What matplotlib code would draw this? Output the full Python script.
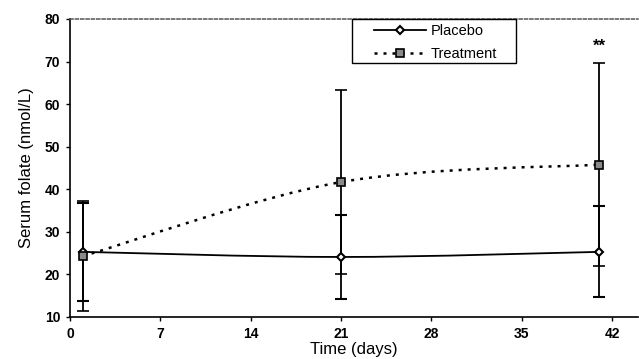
import numpy as np
import matplotlib
matplotlib.use('Agg')
import matplotlib.pyplot as plt
from matplotlib.path import Path
from matplotlib.patches import PathPatch, Rectangle
from matplotlib.lines import Line2D

plt.rcParams['font.family'] = ['Liberation Sans', 'DejaVu Sans']

# ---- data ----
days = [1, 21, 41]
placebo = [25.3, 24.1, 25.3]
placebo_err = [11.5, 9.8, 10.7]
treatment = [24.3, 41.7, 45.8]
treatment_err = [12.9, 21.7, 23.8]
xticks = [0, 7, 14, 21, 28, 35, 42]
yticks = [10, 20, 30, 40, 50, 60, 70, 80]
series_labels = ['Placebo', 'Treatment']
signif_label = '**'


def smooth_path(x, y):
    pts = np.column_stack([x, y]).astype(float)
    n = len(pts)
    verts = [pts[0]]
    codes = [Path.MOVETO]
    for i in range(n - 1):
        p0 = pts[max(i - 1, 0)]
        p1 = pts[i]
        p2 = pts[i + 1]
        p3 = pts[min(i + 2, n - 1)]
        c1 = p1 + (p2 - p0) / 6.0
        c2 = p2 - (p3 - p1) / 6.0
        verts += [c1, c2, p2]
        codes += [Path.CURVE4] * 3
    return Path(verts, codes)


W, H = 639, 359
fig = plt.figure(figsize=(W / 100, H / 100), dpi=100)
ax_l, ax_r, ax_t, ax_b = 70, 638, 19, 317
ax = fig.add_axes([ax_l / W, 1 - ax_b / H, (ax_r - ax_l) / W, (ax_b - ax_t) / H])
ax.set_xlim(0, 44)
ax.set_ylim(10, 80)

dot_style = (0, (1.2, 2.4))

# smoothed lines
ax.add_patch(PathPatch(smooth_path(days, placebo), fill=False, edgecolor='black',
                       lw=1.3, zorder=2))
ax.add_patch(PathPatch(smooth_path(days, treatment), fill=False, edgecolor='black',
                       lw=1.8, linestyle=dot_style, zorder=2))

# error bars and markers
ax.errorbar(days, placebo, yerr=placebo_err, fmt='D', ms=4.5, mfc='white', mec='black',
            mew=1.5, ecolor='black', elinewidth=1.3, capsize=4, capthick=1.3, zorder=3)
ax.errorbar(days, treatment, yerr=treatment_err, fmt='s', ms=5.5, mfc='#8a8a8a', mec='black',
            mew=1.2, ecolor='black', elinewidth=1.3, capsize=4, capthick=1.3, zorder=3)

ax.text(days[-1], 73.5, signif_label, ha='center', va='center', fontsize=12,
        fontweight='bold')

# axes styling
ax.set_xticks(xticks)
ax.set_yticks(yticks)
ax.tick_params(direction='out', length=3, width=1, labelsize=10, pad=4)
for lab in ax.get_xticklabels() + ax.get_yticklabels():
    lab.set_fontweight('bold')
ax.spines['right'].set_visible(False)
ax.spines['top'].set_linestyle((0, (2, 1.5)))
ax.spines['top'].set_linewidth(1.1)
ax.spines['top'].set_color('#555555')
ax.spines['left'].set_linewidth(1.2)
ax.spines['bottom'].set_linewidth(1.2)

ax.set_xlabel('Time (days)', fontsize=12, labelpad=1)
ax.set_ylabel('Serum folate (nmol/L)', fontsize=12, labelpad=8)

# legend frame (px box 352-516 x, 19-63 y)
fx0, fx1, fy0, fy1 = 352, 516, 19, 63
ax.add_patch(Rectangle(((fx0 - ax_l) / (ax_r - ax_l), (ax_b - fy1) / (ax_b - ax_t)),
                       (fx1 - fx0) / (ax_r - ax_l), (fy1 - fy0) / (ax_b - ax_t),
                       transform=ax.transAxes, facecolor='white', edgecolor='black',
                       lw=1.0, zorder=4, clip_on=False))

handles = [
    Line2D([], [], color='black', lw=1.3, marker='D', ms=4.5, mfc='white', mec='black', mew=1.5),
    Line2D([], [], color='black', lw=1.8, linestyle=dot_style, marker='s', ms=5.5,
           mfc='#8a8a8a', mec='black', mew=1.2),
]
leg = ax.legend(handles, series_labels, loc='upper left',
                bbox_to_anchor=((371 - ax_l) / (ax_r - ax_l), 1 - 2 / (ax_b - ax_t)),
                frameon=False, fontsize=10.5, handlelength=3.6,
                numpoints=1, borderpad=0.2, borderaxespad=0, labelspacing=0.65,
                handletextpad=0.3)
leg.set_zorder(5)

fig.savefig('out.png', dpi=100)
